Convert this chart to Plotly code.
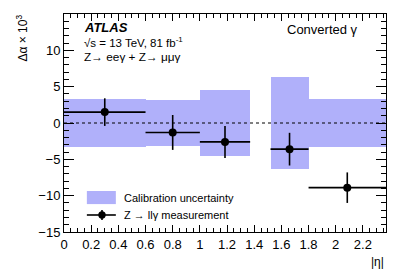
import plotly.graph_objects as go

# Bins in |eta|
bin_lo = [0.0, 0.6, 1.0, 1.52, 1.8]
bin_hi = [0.6, 1.0, 1.37, 1.8, 2.37]
calib_unc = [3.3, 3.2, 4.6, 6.3, 3.3]

meas_x = [0.3, 0.8, 1.185, 1.66, 2.085]
meas_y = [1.5, -1.3, -2.6, -3.6, -8.9]
meas_err = [1.9, 2.4, 2.2, 2.25, 2.1]

band_color = "rgb(176,176,250)"
FONT = "Liberation Sans, Arial, Helvetica, sans-serif"

centers = [(a + b) / 2 for a, b in zip(bin_lo, bin_hi)]
widths = [b - a for a, b in zip(bin_lo, bin_hi)]
xerr_plus = [b - x for b, x in zip(bin_hi, meas_x)]
xerr_minus = [x - a for a, x in zip(bin_lo, meas_x)]

fig = go.Figure()
fig.add_trace(go.Bar(
    x=centers, y=[2 * u for u in calib_unc], base=[-u for u in calib_unc],
    width=widths, marker=dict(color=band_color, line=dict(width=0)),
    name="Calibration uncertainty", showlegend=False,
))
fig.add_trace(go.Scatter(
    x=meas_x, y=meas_y, mode="markers",
    marker=dict(color="black", size=8),
    error_x=dict(type="data", symmetric=False, array=xerr_plus, arrayminus=xerr_minus,
                 color="black", thickness=1.6, width=0),
    error_y=dict(type="data", array=meas_err, color="black", thickness=1.6, width=0),
    name="Z → llγ measurement", showlegend=False,
))

fig.add_hline(y=0, line=dict(color="black", width=1, dash="3px,3px"))

axis_common = dict(
    showline=True, linecolor="black", linewidth=1, mirror="allticks",
    ticks="inside", tickcolor="black", showgrid=False, zeroline=False,
    tickfont=dict(family=FONT, size=13, color="black"),
)
fig.update_xaxes(range=[0, 2.37], dtick=0.2, tick0=0, ticklen=7,
                 minor=dict(ticks="inside", dtick=0.05, ticklen=4, tickcolor="black"),
                 **axis_common)
fig.update_yaxes(range=[-15, 15], dtick=5, tick0=0, ticklen=10,
                 minor=dict(ticks="inside", dtick=1, ticklen=5, tickcolor="black"),
                 **axis_common)

anns = [
    dict(x=0.056, y=0.936, text="<b><i>ATLAS</i></b>", size=13),
    dict(x=0.056, y=0.872, text="√s = 13 TeV, 81 fb<sup>-1</sup>", size=11.5),
    dict(x=0.056, y=0.803, text="Z→ eeγ + Z→ μμγ", size=11.8),
    dict(x=0.686, y=0.931, text="Converted γ", size=13),
    dict(x=0.18, y=0.158, text="Calibration uncertainty", size=11),
    dict(x=0.18, y=0.078, text="Z → llγ measurement", size=11),
]
for a in anns:
    fig.add_annotation(xref="paper", yref="paper", xanchor="left", yanchor="middle",
                       showarrow=False, x=a["x"], y=a["y"], text=a["text"],
                       font=dict(family=FONT, color="black", size=a["size"]))

# y axis title
fig.add_annotation(xref="paper", yref="paper", x=-0.130, y=1.005, xanchor="center", yanchor="top",
                   textangle=-90, showarrow=False, text="Δα × 10<sup>3</sup>",
                   font=dict(family=FONT, size=12, color="black"))
# x axis title
fig.add_annotation(xref="paper", yref="paper", x=1.0, y=-0.138, xanchor="right", yanchor="middle",
                   showarrow=False, text="|η|", font=dict(family=FONT, size=12, color="black"))

# manual legend symbols
fig.add_shape(type="rect", xref="paper", yref="paper", x0=0.071, x1=0.161, y0=0.128, y1=0.188,
              fillcolor=band_color, line=dict(width=0))
fig.add_shape(type="line", xref="paper", yref="paper", x0=0.071, x1=0.161, y0=0.078, y1=0.078,
              line=dict(color="black", width=1.6))
fig.add_shape(type="line", xref="paper", yref="paper", x0=0.118, x1=0.118, y0=0.055, y1=0.101,
              line=dict(color="black", width=1.6))
fig.add_shape(type="circle", xref="paper", yref="paper", x0=0.1065, x1=0.1295, y0=0.061, y1=0.095,
              fillcolor="black", line=dict(color="black", width=0))

# page body has an 8px margin: shrink the figure so the plot frame lands where it should
fig.update_layout(
    width=399, height=269,
    margin=dict(l=56, r=21, t=6, b=45),
    plot_bgcolor="white", paper_bgcolor="white",
    showlegend=False, barmode="overlay", bargap=0,
    font=dict(family=FONT, color="black"),
)
fig.write_html("out.html")
